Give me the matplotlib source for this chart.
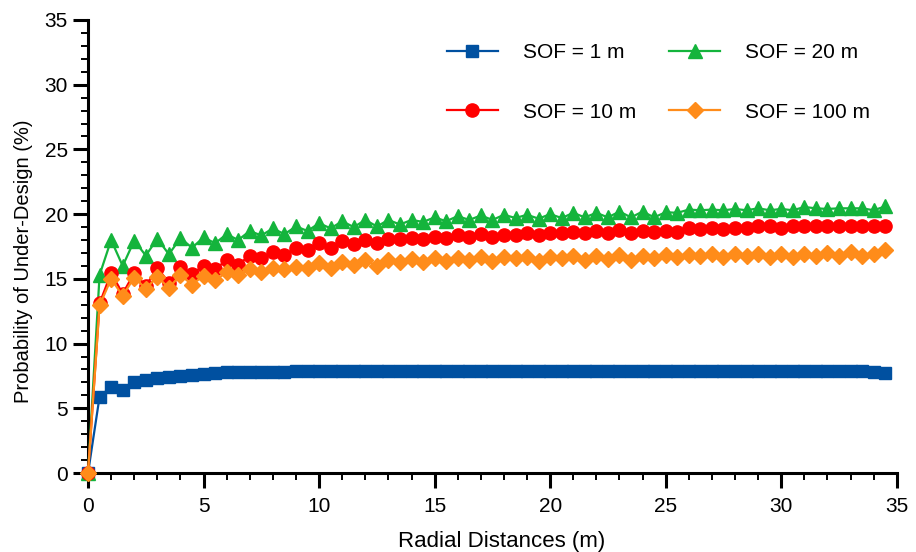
import numpy as np
import matplotlib
matplotlib.use("Agg")
import matplotlib.pyplot as plt
from matplotlib.ticker import MultipleLocator

plt.rcParams['font.family'] = ['Liberation Sans', 'DejaVu Sans']

# Radial distance (m), every 0.5 m
radial = np.arange(0, 35, 0.5)

sof_1 = [0.0, 5.9, 6.65, 6.45, 7.05, 7.15, 7.35, 7.4, 7.5, 7.55,
         7.65, 7.7, 7.8, 7.8, 7.8, 7.8, 7.8, 7.8, 7.85, 7.85,
         7.9, 7.9, 7.9, 7.9, 7.9, 7.9, 7.9, 7.9, 7.9, 7.9,
         7.9, 7.9, 7.85, 7.85, 7.85, 7.85, 7.85, 7.85, 7.85, 7.85,
         7.85, 7.85, 7.9, 7.9, 7.9, 7.9, 7.9, 7.9, 7.9, 7.85,
         7.9, 7.85, 7.9, 7.9, 7.9, 7.9, 7.9, 7.9, 7.9, 7.9,
         7.9, 7.9, 7.9, 7.9, 7.9, 7.9, 7.9, 7.9, 7.8, 7.75]

sof_10 = [0.0, 13.1, 15.45, 13.85, 15.45, 14.45, 15.85, 14.7, 15.95, 15.4,
          16.0, 15.75, 16.45, 16.1, 16.8, 16.6, 17.05, 16.85, 17.4, 17.25,
          17.75, 17.4, 17.9, 17.7, 18.0, 17.75, 18.1, 18.05, 18.15, 18.1,
          18.25, 18.15, 18.35, 18.25, 18.45, 18.25, 18.4, 18.4, 18.55, 18.35,
          18.55, 18.55, 18.6, 18.55, 18.7, 18.55, 18.8, 18.55, 18.7, 18.65,
          18.7, 18.65, 18.9, 18.85, 18.9, 18.85, 18.95, 18.95, 19.05, 19.05,
          18.95, 19.1, 19.1, 19.05, 19.05, 19.1, 19.05, 19.05, 19.05, 19.1]

sof_20 = [0.0, 15.3, 18.0, 16.0, 17.95, 16.8, 18.1, 16.9, 18.15, 17.4,
          18.2, 17.75, 18.45, 18.0, 18.7, 18.35, 18.9, 18.45, 19.05, 18.7,
          19.3, 18.9, 19.45, 19.0, 19.55, 19.05, 19.55, 19.2, 19.55, 19.4,
          19.75, 19.45, 19.85, 19.55, 19.9, 19.55, 19.95, 19.7, 19.95, 19.65,
          20.0, 19.7, 20.1, 19.75, 20.1, 19.75, 20.2, 19.75, 20.2, 19.75,
          20.15, 20.1, 20.35, 20.3, 20.35, 20.3, 20.4, 20.3, 20.45, 20.3,
          20.4, 20.3, 20.55, 20.45, 20.4, 20.45, 20.45, 20.45, 20.3, 20.6]

sof_100 = [0.0, 12.95, 15.0, 13.7, 15.1, 14.25, 15.15, 14.3, 15.3, 14.55,
           15.25, 14.9, 15.5, 15.3, 15.75, 15.5, 15.85, 15.75, 15.95, 15.8,
           16.2, 15.85, 16.3, 16.1, 16.45, 16.0, 16.45, 16.3, 16.55, 16.3,
           16.6, 16.4, 16.6, 16.45, 16.7, 16.4, 16.65, 16.6, 16.7, 16.4,
           16.65, 16.6, 16.8, 16.45, 16.75, 16.55, 16.85, 16.45, 16.8, 16.6,
           16.85, 16.7, 16.85, 16.75, 16.95, 16.7, 16.95, 16.75, 16.95, 16.7,
           16.95, 16.7, 16.95, 16.75, 17.0, 16.75, 17.1, 16.75, 16.9, 17.2]

labels = ["SOF = 1 m", "SOF = 10 m", "SOF = 20 m", "SOF = 100 m"]
colors = ["#0050A0", "#FF0000", "#14B43C", "#FF8C1A"]

fig = plt.figure(figsize=(9.16, 5.52), dpi=100)
ax = fig.add_axes([0.0961, 0.1431, 0.8829, 0.8207])

lw = 1.6
h1, = ax.plot(radial, sof_1, color=colors[0], marker="s", markersize=8.5,
              lw=lw, label=labels[0], clip_on=False, zorder=3)
h20, = ax.plot(radial, sof_20, color=colors[2], marker="^", markersize=9.5,
               lw=lw, label=labels[2], clip_on=False, zorder=3)
h10, = ax.plot(radial, sof_10, color=colors[1], marker="o", markersize=9.5,
               lw=lw, label=labels[1], clip_on=False, zorder=3)
h100, = ax.plot(radial, sof_100, color=colors[3], marker="D", markersize=8,
                lw=lw, label=labels[3], clip_on=False, zorder=3)

ax.set_xlim(0, 35)
ax.set_ylim(0, 35)
ax.xaxis.set_major_locator(MultipleLocator(5))
ax.xaxis.set_minor_locator(MultipleLocator(1))
ax.yaxis.set_major_locator(MultipleLocator(5))
ax.yaxis.set_minor_locator(MultipleLocator(1))

for side in ("top", "right"):
    ax.spines[side].set_visible(False)
for side in ("left", "bottom"):
    ax.spines[side].set_linewidth(2.2)

ax.tick_params(which="major", direction="out", length=11, width=2.2,
               labelsize=15)
ax.tick_params(axis="x", which="major", pad=6)
ax.tick_params(axis="y", which="major", pad=3.5)
ax.tick_params(which="minor", direction="out", length=5, width=1.4)

ax.set_xlabel("Radial Distances (m)", fontsize=16)
ax.set_ylabel("Probability of Under-Design (%)", fontsize=14.5)
ax.xaxis.set_label_coords(0.511, -0.128)
ax.yaxis.set_label_coords(-0.068, 0.467)

ax.legend([h1, h10, h20, h100], [labels[0], labels[1], labels[2], labels[3]],
          ncol=2, frameon=False, fontsize=15, loc="upper left",
          bbox_to_anchor=(0.467, 0.956), bbox_transform=fig.transFigure,
          handlelength=2.45, handletextpad=1.2, columnspacing=1.6,
          labelspacing=1.95, borderpad=0.4)

fig.savefig("out.png", dpi=100)
